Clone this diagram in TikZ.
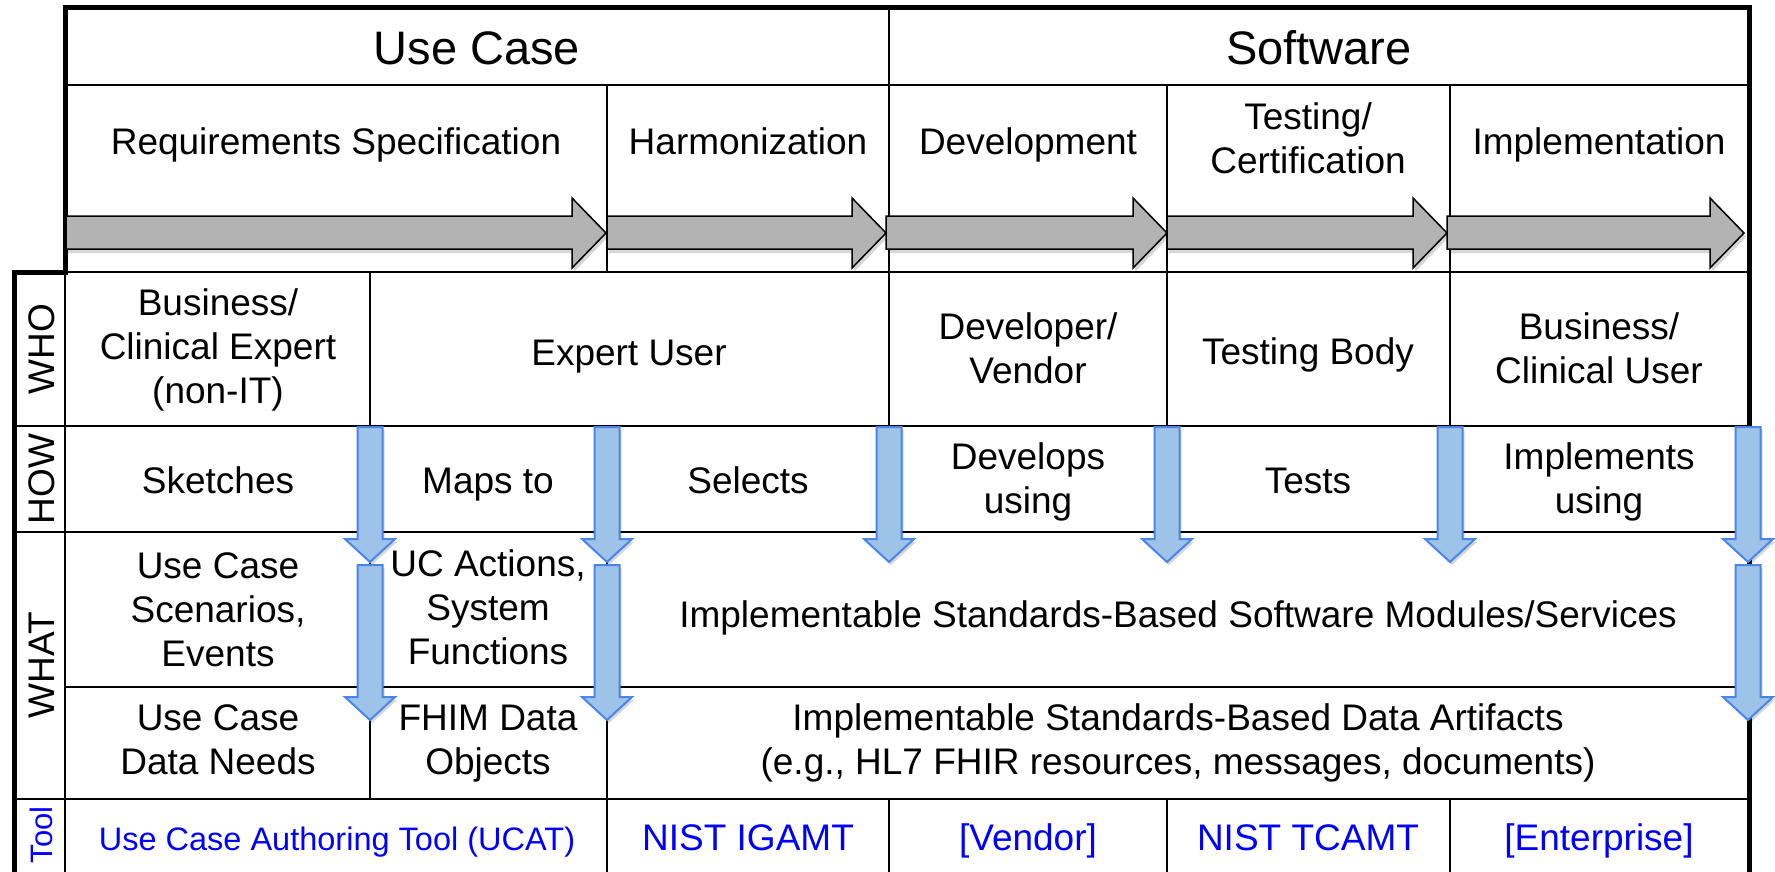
\documentclass[tikz,border=0pt]{standalone}
\usepackage{fontspec}
\setmainfont{Liberation Sans}
\definecolor{arrgray}{RGB}{179,179,179}
\definecolor{bluefill}{RGB}{158,195,233}
\definecolor{blueline}{RGB}{74,134,232}
\definecolor{tooltext}{RGB}{0,0,255}
\newcommand\sT{\vrule height31pt depth13pt width0pt}
\tikzset{
  gridline/.style={line width=2pt, line cap=rect},
  frameline/.style={line width=5pt, line join=miter},
  grayarrow/.style={fill=arrgray, draw=black, line width=1.5pt, line join=miter},
  bluearrow/.style={fill=bluefill, draw=blueline, line width=2pt, line join=miter},
  shadowfill/.style={fill=black, opacity=0.16},
  hdr/.style={font=\fontsize{47}{56}\selectfont, inner sep=0pt, anchor=base},
  scell/.style={font=\fontsize{37}{44}\selectfont, inner sep=0pt, anchor=base},
  mcell/.style={font=\fontsize{37}{44}\selectfont, inner sep=0pt, anchor=center, align=center,
    execute at begin node=\sT, execute at end node=\sT},
  toolt/.style={font=\fontsize{37}{44}\selectfont, text=tooltext, inner sep=0pt, anchor=base},
  sidelab/.style={font=\fontsize{37}{44}\selectfont, inner sep=0pt, anchor=base, rotate=90},
}
\begin{document}
\begin{tikzpicture}[x=1pt,y=-1pt]
\useasboundingbox (0,0) rectangle (1775,872);
\fill[white] (0,0) rectangle (1775,872);

% thin grid lines
\draw[gridline] (65,85) -- (1749,85);
\draw[gridline] (65,272) -- (1749,272);
\draw[gridline] (14,426) -- (1749,426);
\draw[gridline] (14,532) -- (1749,532);
\draw[gridline] (65,687) -- (1749,687);
\draw[gridline] (14,799) -- (1749,799);
\draw[gridline] (65,272) -- (65,872);
\draw[gridline] (370,272) -- (370,799);
\draw[gridline] (607,85) -- (607,272);
\draw[gridline] (607,426) -- (607,872);
\draw[gridline] (889,8) -- (889,532);
\draw[gridline] (889,799) -- (889,872);
\draw[gridline] (1167,85) -- (1167,532);
\draw[gridline] (1167,799) -- (1167,872);
\draw[gridline] (1450,85) -- (1450,532);
\draw[gridline] (1450,799) -- (1450,872);

% thick frame
\draw[frameline] (1749,872) -- (1749,8) -- (65,8) -- (65,272) -- (14,272) -- (14,872);

% gray phase arrows
\foreach \a/\b in {66/606, 607/886, 886/1167, 1167/1447, 1447/1744} {
  \begin{scope}[shift={(2,4)}]
    \fill[shadowfill] (\a,216) -- ({\b-34},216) -- ({\b-34},198) -- (\b,233) -- ({\b-34},268) -- ({\b-34},249) -- (\a,249) -- cycle;
  \end{scope}
  \draw[grayarrow] (\a,216) -- ({\b-34},216) -- ({\b-34},198) -- (\b,233) -- ({\b-34},268) -- ({\b-34},249) -- (\a,249) -- cycle;
}

% headers
\node[hdr] (uc) at (477,65) {Use Case};
\node[hdr] (sw) at (1319,65) {Software};

% phases
\node[scell] (req) at (336,155) {Requirements Specification};
\node[scell] (harm) at (748,155) {Harmonization};
\node[scell] (dev) at (1028,155) {Development};
\node[mcell] (test) at (1308,145) {Testing/\\Certification};
\node[scell] (impl) at (1599,155) {Implementation};

% side labels
\node[sidelab] (lwho) at (54,349) {WHO};
\node[sidelab] (lhow) at (54,479) {HOW};
\node[sidelab] (lwhat) at (54,665) {WHAT};
\node[sidelab, font=\fontsize{31}{37}\selectfont, text=tooltext] (ltool) at (52,835) {Tool};

% WHO row
\node[mcell] (who1) at (218,353) {Business/\\Clinical Expert\\(non-IT)};
\node[scell] (who2) at (629,365) {Expert User};
\node[mcell] (who3) at (1028,354.5) {Developer/\\Vendor};
\node[scell] (who4) at (1308,364) {Testing Body};
\node[mcell] (who5) at (1599,354.5) {Business/\\Clinical User};

% HOW row
\node[scell] (how1) at (218,493) {Sketches};
\node[scell] (how2) at (488,493) {Maps to};
\node[scell] (how3) at (748,493) {Selects};
\node[mcell] (how4) at (1028,484.5) {Develops\\using};
\node[scell] (how5) at (1308,493) {Tests};
\node[mcell] (how6) at (1599,484.5) {Implements\\using};

% WHAT rows
\node[mcell] (wa1) at (218,616) {Use Case\\Scenarios,\\Events};
\node[mcell] (wa2) at (488,614) {UC Actions,\\System\\Functions};
\node[scell] (wa3) at (1178,627) {Implementable Standards-Based Software Modules/Services};
\node[mcell] (wb1) at (218,746) {Use Case\\Data Needs};
\node[mcell] (wb2) at (488,746) {FHIM Data\\Objects};
\node[mcell] (wb3) at (1178,746) {Implementable Standards-Based Data Artifacts\\(e.g., HL7 FHIR resources, messages, documents)};

% Tool row
\node[toolt, font=\fontsize{32.5}{39}\selectfont] (t1) at (337,850) {Use Case Authoring Tool (UCAT)};
\node[toolt] (t2) at (748,850) {NIST IGAMT};
\node[toolt] (t3) at (1028,850) {[Vendor]};
\node[toolt] (t4) at (1308,850) {NIST TCAMT};
\node[toolt] (t5) at (1599,850) {[Enterprise]};

% blue flow arrows
\foreach \x in {370, 607, 889, 1167, 1450, 1748} {
  \begin{scope}[shift={(2,3)}]
    \fill[shadowfill] ({\x-12.5},427) -- ({\x+12.5},427) -- ({\x+12.5},539) -- ({\x+25},539) -- (\x,562) -- ({\x-25},539) -- ({\x-12.5},539) -- cycle;
  \end{scope}
  \draw[bluearrow] ({\x-12.5},427) -- ({\x+12.5},427) -- ({\x+12.5},539) -- ({\x+25},539) -- (\x,562) -- ({\x-25},539) -- ({\x-12.5},539) -- cycle;
}
\foreach \x in {370, 607, 1748} {
  \begin{scope}[shift={(2,3)}]
    \fill[shadowfill] ({\x-12.5},565) -- ({\x+12.5},565) -- ({\x+12.5},697) -- ({\x+25},697) -- (\x,720) -- ({\x-25},697) -- ({\x-12.5},697) -- cycle;
  \end{scope}
  \draw[bluearrow] ({\x-12.5},565) -- ({\x+12.5},565) -- ({\x+12.5},697) -- ({\x+25},697) -- (\x,720) -- ({\x-25},697) -- ({\x-12.5},697) -- cycle;
}
\end{tikzpicture}
\end{document}
